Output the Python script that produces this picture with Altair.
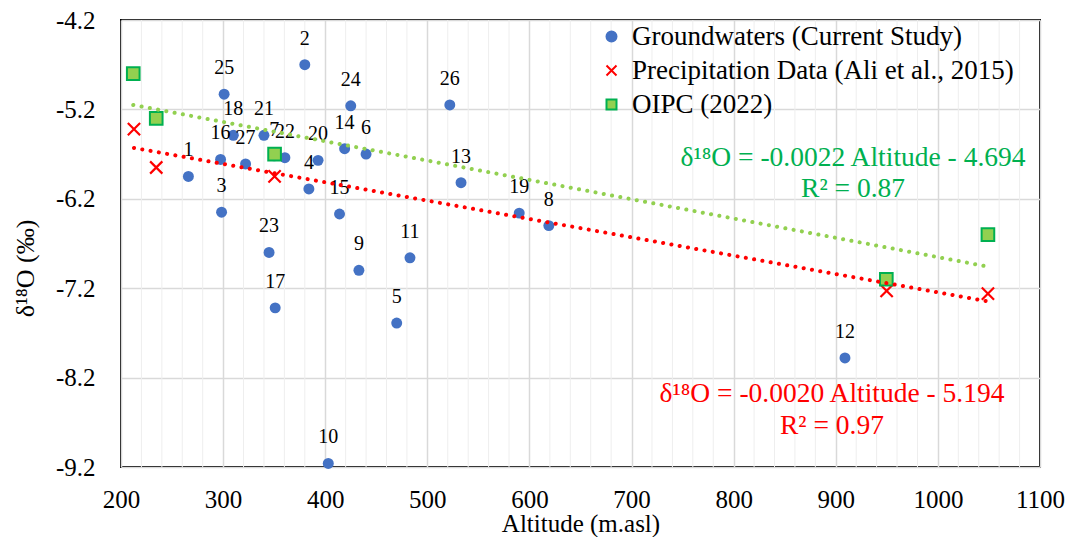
import altair as alt
import pandas as pd

# ---- data ----
gw_id = [str(i) for i in range(1, 28)]
gw_alt = [266, 380, 298.5, 384, 470, 440, 350, 619, 433, 403, 483, 909, 533, 419,
          414, 297.5, 351, 310, 590, 393, 340, 360.5, 345, 425, 301, 522, 322]
gw_d18o = [-5.95, -4.70, -6.35, -6.09, -7.59, -5.70, -5.72, -6.50, -7.00, -9.16,
           -6.86, -7.98, -6.02, -5.64, -6.37, -5.76, -7.42, -5.49, -6.36, -5.77,
           -5.49, -5.74, -6.80, -5.16, -5.03, -5.15, -5.81]

pr_alt = [212.7, 234.5, 350.4, 949.8, 1049]
pr_d18o = [-5.42, -5.85, -5.95, -7.23, -7.26]

oi_alt = [212, 234.5, 350.4, 949.5, 1049]
oi_d18o = [-4.80, -5.30, -5.70, -7.10, -6.60]

series_names = ["Groundwaters (Current Study)",
                "Precipitation Data (Ali et al., 2015)",
                "OIPC (2022)"]

x_ticks = [200, 300, 400, 500, 600, 700, 800, 900, 1000, 1100]
y_ticks = [-9.2, -8.2, -7.2, -6.2, -5.2, -4.2]
minor_x = [v for v in range(200, 1101, 20) if v % 100 != 0]

eq_text = ["δ¹⁸O  = -0.0022 Altitude - 4.694", "R² = 0.87",
           "δ¹⁸O  = -0.0020 Altitude - 5.194", "R² = 0.97"]
eq_color = ["#00B050", "#00B050", "#FF0000", "#FF0000"]
eq_x = [916.9, 916.9, 896.3, 896.3]
eq_y = [-5.833, -6.176, -8.477, -8.834]

# ---- tables ----
gw = pd.DataFrame({"altitude": gw_alt, "d18O": gw_d18o, "id": gw_id, "series": series_names[0]})
pr = pd.DataFrame({"altitude": pr_alt, "d18O": pr_d18o, "id": "", "series": series_names[1]})
oi = pd.DataFrame({"altitude": oi_alt, "d18O": oi_d18o, "id": "", "series": series_names[2]})
minor_df = pd.DataFrame({"altitude": minor_x})
eq_df = pd.DataFrame({"altitude": eq_x, "d18O": eq_y, "text": eq_text, "color": eq_color})

FONT = "Liberation Serif"
GFONT = "Liberation Serif, Times New Roman, serif"
AX = 25

X = alt.X("altitude:Q",
          scale=alt.Scale(domain=[200, 1100], nice=False, zero=False),
          axis=alt.Axis(values=x_ticks, title="Altitude (m.asl)", grid=True, format="d",
                        labelFont=GFONT, labelFontSize=AX, labelColor="black",
                        titleFont=GFONT, titleFontSize=AX, titleColor="black",
                        titleFontWeight="normal", labelFlush=False,
                        labelPadding=20, titleY=64, titleBaseline="alphabetic"))
Y = alt.Y("d18O:Q",
          scale=alt.Scale(domain=[-9.2, -4.2], nice=False, zero=False),
          axis=alt.Axis(values=y_ticks, title="δ¹⁸O (‰)", grid=True,
                        labelFont=GFONT, labelFontSize=AX, labelColor="black",
                        titleFont=GFONT, titleFontSize=AX + 1, titleColor="black",
                        titleFontWeight="normal", labelFlush=False,
                        labelExpr="replace(format(datum.value, '.1f'), '−', '-')",
                        labelPadding=26, titleX=-96, titleY=248,
                        titleBaseline="middle", titleAngle=-90))

leg = alt.Legend(title=None, orient="none", legendX=477, legendY=3,
                 labelFont=GFONT, labelFontSize=27, labelColor="black",
                 symbolSize=100, symbolStrokeWidth=2, rowPadding=6,
                 labelOffset=7, padding=0, labelLimit=500)

shape_range = ["circle", "M-1,-1L1,1M1,-1L-1,1", "square"]
fill_range = ["#4472C4", "transparent", "#92D050"]
stroke_range = ["#4472C4", "#FF0000", "#00B050"]
shape_enc = alt.Shape("series:N", scale=alt.Scale(domain=series_names, range=shape_range), legend=leg)
fill_enc = alt.Fill("series:N", scale=alt.Scale(domain=series_names, range=fill_range), legend=leg)
stroke_enc = alt.Stroke("series:N", scale=alt.Scale(domain=series_names, range=stroke_range), legend=leg)

minor = alt.Chart(minor_df).mark_rule(color="#EEEEEE", strokeWidth=1).encode(x=X)


def series_layer(df, size, sw):
    return alt.Chart(df).mark_point(opacity=1, size=size, strokeWidth=sw).encode(
        x=X, y=Y, shape=shape_enc, fill=fill_enc, stroke=stroke_enc)


gw_pts = series_layer(gw, 120, 0)
pr_pts = series_layer(pr, 150, 2.2)
oi_pts = series_layer(oi, 160, 2)

labels = alt.Chart(gw).mark_text(dy=-26, font=FONT, fontSize=20, color="black").encode(
    x=X, y=Y, text="id:N")


def trend(df, color):
    return alt.Chart(df).transform_regression("altitude", "d18O").mark_line(
        color=color, strokeDash=[0.1, 8.3], strokeCap="round", strokeWidth=4
    ).encode(x=X, y=Y)


red_trend = trend(pr, "#FF0000")
green_trend = trend(oi, "#92D050")

eqs = alt.Chart(eq_df).mark_text(font=FONT, fontSize=27.5, baseline="alphabetic", align="center").encode(
    x=X, y=Y, text="text:N", color=alt.Color("color:N", scale=None))

chart = alt.layer(minor, gw_pts, pr_pts, oi_pts, labels, red_trend, green_trend, eqs).properties(
    width=919, height=447,
    background="white",
    autosize=alt.AutoSizeParams(type="none"),
    padding={"left": 113, "top": 12, "right": 27, "bottom": 70},
).configure(
    font=GFONT,
    style={"guide-label": {"font": GFONT, "fill": "black"},
           "guide-title": {"font": GFONT, "fill": "black", "fontWeight": "normal"}},
).configure_view(stroke="black", strokeWidth=2).configure_axis(
    labelFont=GFONT, titleFont=GFONT,
    domain=False, ticks=False, tickSize=0,
    gridColor="#D9D9D9", gridWidth=1.5,
).configure_legend(labelFont=GFONT, labelFontSize=27, disable=False)

chart.save("out.html", embed_options={"renderer": "svg", "actions": False})
